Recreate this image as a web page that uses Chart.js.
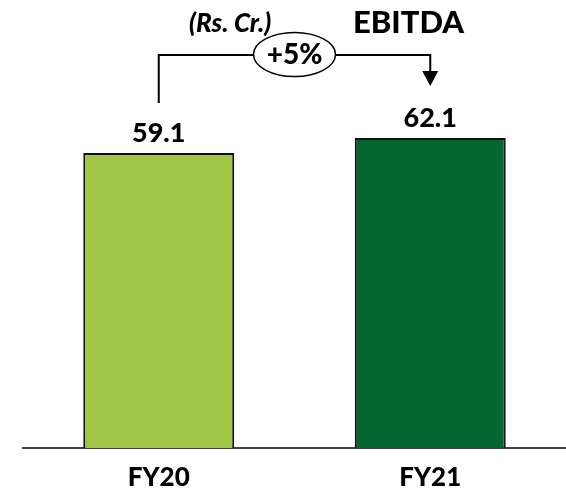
<!DOCTYPE html>
<html>
<head>
<meta charset="utf-8">
<script src="https://cdn.jsdelivr.net/npm/chart.js@4/dist/chart.umd.min.js"></script>
<style>
  html, body { margin: 0; padding: 0; background: #ffffff; }
  #wrap { width: 566px; height: 495px; position: relative; }
</style>
</head>
<body>
<div id="wrap"><canvas id="c" width="566" height="495"></canvas></div>
<script>
// EBITDA by fiscal year (Rs. Cr.)
const categories = ['FY20', 'FY21'];
const ebitda = [59.1, 62.1];
const barColors = ['#a0c546', '#03662f'];
const titleText = 'EBITDA';
const unitText = '(Rs. Cr.)';

const FONT = 'Lato, "Open Sans", sans-serif';

// Value labels, growth bracket, unit and title
const annotations = {
  id: 'annotations',
  afterDatasetsDraw(chart) {
    const ctx = chart.ctx;
    const bars = chart.getDatasetMeta(0).data;
    ctx.save();

    // values above the bars
    ctx.fillStyle = '#000';
    ctx.font = '900 27px ' + FONT;
    ctx.textAlign = 'center';
    ctx.textBaseline = 'alphabetic';
    bars.forEach((b, i) => {
      ctx.fillText(ebitda[i].toFixed(1), b.x, b.y - 11);
    });

    // growth bracket from first to second bar
    const b0 = bars[0], b1 = bars[1];
    const lineY = 55;
    const midX = (b0.x + b1.x) / 2;
    const rx = 41, ry = 22;
    ctx.strokeStyle = '#000';
    ctx.lineWidth = 2;
    ctx.beginPath();
    ctx.moveTo(b0.x, b0.y - 50);
    ctx.lineTo(b0.x, lineY);
    ctx.lineTo(midX - rx, lineY);
    ctx.moveTo(midX + rx, lineY);
    ctx.lineTo(b1.x, lineY);
    ctx.lineTo(b1.x, b1.y - 64);
    ctx.stroke();
    // arrow head
    const tipY = b1.y - 52;
    ctx.fillStyle = '#000';
    ctx.beginPath();
    ctx.moveTo(b1.x - 8, tipY - 15);
    ctx.lineTo(b1.x + 8, tipY - 15);
    ctx.lineTo(b1.x, tipY);
    ctx.closePath();
    ctx.fill();

    // growth bubble
    ctx.lineWidth = 1.5;
    ctx.fillStyle = '#fff';
    ctx.beginPath();
    ctx.ellipse(midX, lineY - 0.5, rx, ry, 0, 0, Math.PI * 2);
    ctx.fill();
    ctx.stroke();
    const growth = Math.round((ebitda[1] / ebitda[0] - 1) * 100);
    ctx.fillStyle = '#000';
    ctx.font = '900 28px ' + FONT;
    ctx.textAlign = 'center';
    ctx.textBaseline = 'alphabetic';
    ctx.fillText((growth >= 0 ? '+' : '') + growth + '%', midX, lineY + 9);

    // unit and title
    ctx.font = 'italic 900 26px ' + FONT;
    ctx.textAlign = 'left';
    ctx.fillText(unitText, 189, 32);
    ctx.font = '900 31px ' + FONT;
    ctx.fillText(titleText, 353, 33);

    ctx.restore();
  }
};

new Chart(document.getElementById('c'), {
  type: 'bar',
  data: {
    labels: categories,
    datasets: [{
      data: ebitda,
      backgroundColor: barColors,
      borderColor: '#111',
      borderWidth: 2,
      borderSkipped: 'bottom',
      categoryPercentage: 1,
      barPercentage: 0.556
    }]
  },
  options: {
    responsive: false,
    animation: false,
    devicePixelRatio: 1,
    layout: { padding: { left: 23, right: 0, top: 48.8, bottom: 0 } },
    plugins: {
      legend: { display: false },
      tooltip: { enabled: false },
      title: { display: false }
    },
    scales: {
      x: {
        grid: { display: false, drawTicks: false },
        border: { display: true, color: '#444', width: 2 },
        ticks: {
          color: '#000',
          padding: 14,
          font: { family: FONT, size: 26, weight: '900' }
        },
        afterFit(scale) { scale.height = 47; }
      },
      y: {
        display: false,
        min: 0,
        max: 80
      }
    }
  },
  plugins: [annotations]
});
</script>
</body>
</html>
